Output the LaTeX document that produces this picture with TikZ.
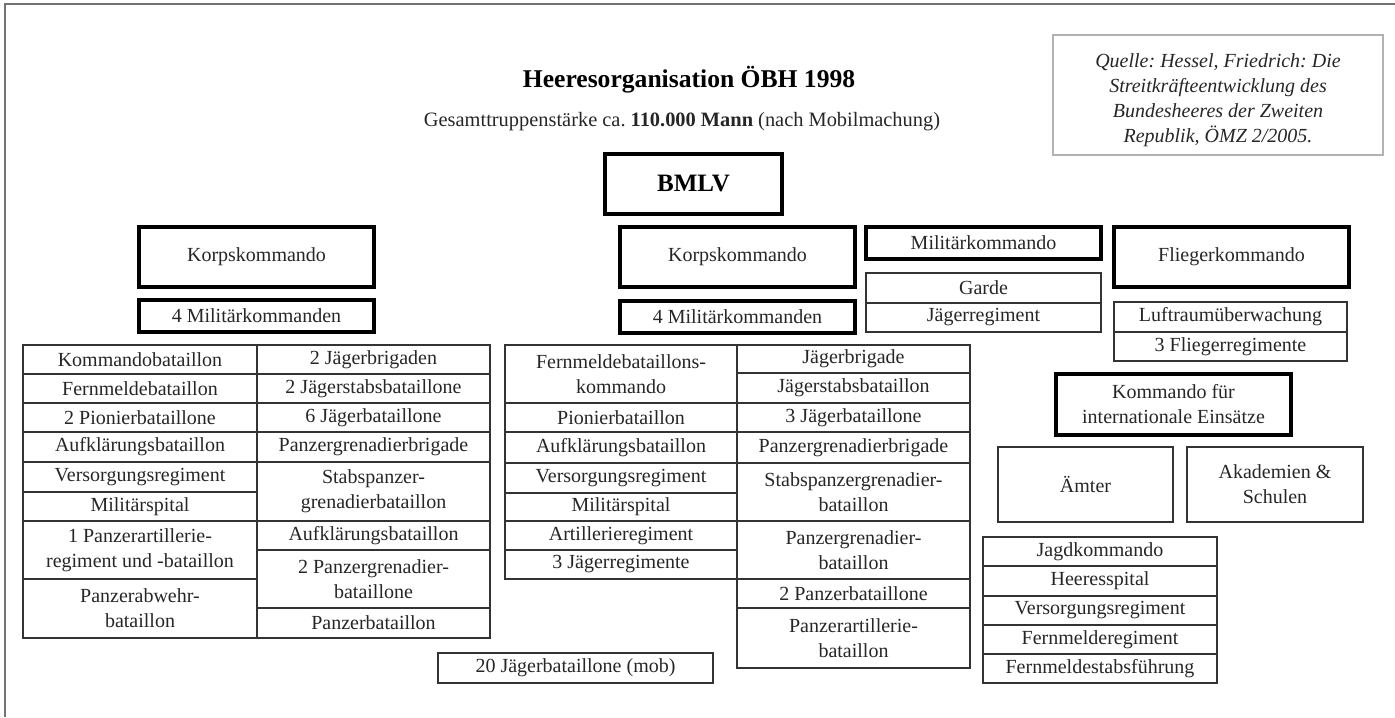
\documentclass[tikz,border=0pt]{standalone}
\usepackage{fontspec}
\setmainfont{Liberation Serif}
\frenchspacing
\newcommand\mkbox[7]{\node[#6, minimum width={0.5pt*(#4-#2)}, minimum height={0.5pt*(#5-#3)}] (#1) at ({(#2+#4)/2},{(#3+#5)/2}) {#7};}
\begin{document}
\begin{tikzpicture}[x=0.5pt,y=-0.5pt,
  cellbox/.style={draw=black!80, line width=1.1pt, inner sep=0pt, outer sep=0pt, align=center, font=\fontsize{10}{12.5}\selectfont, text=black!85},
  heavybox/.style={cellbox, draw=black, line width=2.4pt},
  srcbox/.style={draw=black!30, line width=0.8pt, inner sep=0pt, outer sep=0pt},
  srctext/.style={align=center, inner sep=0pt, font=\fontsize{10}{12.5}\selectfont\itshape, text=black!85},
  framestyle/.style={draw=black!55, line width=0.8pt}]
\useasboundingbox (0,0) rectangle (1395,717);
% frame
\coordinate (fbl) at (5,717);
\coordinate (ftl) at (5,4);
\coordinate (ftr) at (1395,4);
\draw[framestyle] (fbl) -- (ftl) -- (ftr);
% titles
\node[font=\fontsize{12.8}{15}\selectfont\bfseries] (title) at (689,80) {Heeresorganisation ÖBH 1998};
\node[font=\fontsize{10.2}{12}\selectfont, text=black!85] (subtitle) at (682,122) {Gesamttruppenstärke ca. \textbf{110.000 Mann} (nach Mobilmachung)};
\mkbox{quelle}{1053}{35}{1383}{155}{srcbox}{}
\node[srctext] (quelletext) at (1218,100) {Quelle: Hessel, Friedrich: Die\\Streitkräfteentwicklung des\\Bundesheeres der Zweiten\\Republik, ÖMZ 2/2005.};
% top level
\mkbox{bmlv}{605}{154}{782}{214}{heavybox, font=\fontsize{12.5}{15}\selectfont\bfseries, text=black}{BMLV}
\mkbox{korpsL}{139}{227}{374}{287}{heavybox}{Korpskommando}
\mkbox{milL}{139}{300}{374}{332}{heavybox}{4 Militärkommanden}
\mkbox{korpsM}{620}{227}{855}{287}{heavybox}{Korpskommando}
\mkbox{milM}{620}{301}{855}{333}{heavybox}{4 Militärkommanden}
\mkbox{milk}{866}{227}{1101}{259}{heavybox}{Militärkommando}
\mkbox{garde}{866}{273}{1101}{303}{cellbox}{Garde}
\mkbox{jreg}{866}{303}{1101}{332}{cellbox}{Jägerregiment}
\mkbox{flieg}{1114}{227}{1349}{287}{heavybox}{Fliegerkommando}
\mkbox{luft}{1114}{302}{1347}{332}{cellbox}{Luftraumüberwachung}
\mkbox{fregs}{1114}{332}{1347}{361}{cellbox}{3 Fliegerregimente}
\mkbox{kie}{1056}{374}{1291}{435}{heavybox}{Kommando für\\internationale Einsätze}
\mkbox{aemter}{998}{447}{1173}{522}{cellbox}{Ämter}
\mkbox{akad}{1187}{447}{1363}{522}{cellbox}{Akademien \&\\Schulen}
\mkbox{jagd}{983}{537}{1217}{566}{cellbox}{Jagdkommando}
\mkbox{hsp}{983}{566}{1217}{596}{cellbox}{Heeresspital}
\mkbox{vreg}{983}{596}{1217}{625}{cellbox}{Versorgungsregiment}
\mkbox{freg}{983}{625}{1217}{654}{cellbox}{Fernmelderegiment}
\mkbox{fstab}{983}{654}{1217}{683}{cellbox}{Fernmeldestabsführung}
% left table, left column
\mkbox{lt1}{23}{345}{257}{374}{cellbox}{Kommandobataillon}
\mkbox{lt2}{23}{374}{257}{403}{cellbox}{Fernmeldebataillon}
\mkbox{lt3}{23}{403}{257}{432}{cellbox}{2 Pionierbataillone}
\mkbox{lt4}{23}{432}{257}{462}{cellbox}{Aufklärungsbataillon}
\mkbox{lt5}{23}{462}{257}{492}{cellbox}{Versorgungsregiment}
\mkbox{lt6}{23}{492}{257}{521}{cellbox}{Militärspital}
\mkbox{lt7}{23}{521}{257}{579}{cellbox}{1 Panzerartillerie-\\regiment und -bataillon}
\mkbox{lt8}{23}{579}{257}{638}{cellbox}{Panzerabwehr-\\bataillon}
% left table, right column
\mkbox{rt1}{257}{345}{490}{374}{cellbox}{2 Jägerbrigaden}
\mkbox{rt2}{257}{374}{490}{403}{cellbox}{2 Jägerstabsbataillone}
\mkbox{rt3}{257}{403}{490}{432}{cellbox}{6 Jägerbataillone}
\mkbox{rt4}{257}{432}{490}{462}{cellbox}{Panzergrenadierbrigade}
\mkbox{rt5}{257}{462}{490}{521}{cellbox}{Stabspanzer-\\grenadierbataillon}
\mkbox{rt6}{257}{521}{490}{550}{cellbox}{Aufklärungsbataillon}
\mkbox{rt7}{257}{550}{490}{608}{cellbox}{2 Panzergrenadier-\\bataillone}
\mkbox{rt8}{257}{608}{490}{638}{cellbox}{Panzerbataillon}
% middle table, left column
\mkbox{ml1}{505}{345}{737}{403}{cellbox}{Fernmeldebataillons-\\kommando}
\mkbox{ml2}{505}{403}{737}{432}{cellbox}{Pionierbataillon}
\mkbox{ml3}{505}{432}{737}{463}{cellbox}{Aufklärungsbataillon}
\mkbox{ml4}{505}{463}{737}{493}{cellbox}{Versorgungsregiment}
\mkbox{ml5}{505}{493}{737}{521}{cellbox}{Militärspital}
\mkbox{ml6}{505}{521}{737}{550}{cellbox}{Artillerieregiment}
\mkbox{ml7}{505}{550}{737}{579}{cellbox}{3 Jägerregimente}
% middle table, right column
\mkbox{mr1}{737}{345}{970}{373}{cellbox}{Jägerbrigade}
\mkbox{mr2}{737}{373}{970}{403}{cellbox}{Jägerstabsbataillon}
\mkbox{mr3}{737}{403}{970}{432}{cellbox}{3 Jägerbataillone}
\mkbox{mr4}{737}{432}{970}{463}{cellbox}{Panzergrenadierbrigade}
\mkbox{mr5}{737}{463}{970}{521}{cellbox}{Stabspanzergrenadier-\\bataillon}
\mkbox{mr6}{737}{521}{970}{579}{cellbox}{Panzergrenadier-\\bataillon}
\mkbox{mr7}{737}{579}{970}{608}{cellbox}{2 Panzerbataillone}
\mkbox{mr8}{737}{608}{970}{668}{cellbox}{Panzerartillerie-\\bataillon}
\mkbox{mob}{438}{653}{713}{683}{cellbox}{20 Jägerbataillone (mob)}
\end{tikzpicture}
\end{document}
